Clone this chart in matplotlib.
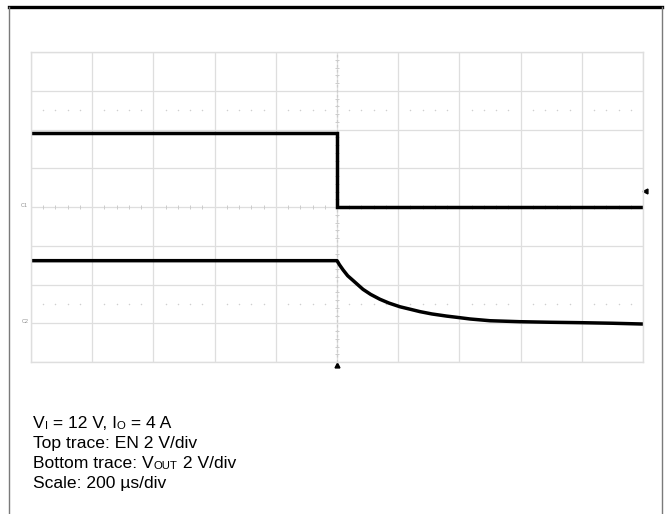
import numpy as np
import matplotlib.pyplot as plt
from matplotlib.lines import Line2D

plt.rcParams['font.family'] = ['Liberation Sans', 'DejaVu Sans']

# scope settings
t_div = 200.0      # us/div
v_div = 2.0        # V/div
c1_offset = 0.0    # div, EN ground
c2_offset = -3.0   # div, VOUT ground

# top trace: EN (time in us, volts)
en_t = [-1000, 0, 0, 1000]
en_v = [3.8, 3.8, 0.0, 0.0]

# bottom trace: VOUT (time in us, volts)
vout_t = [-1000, 0, 8, 20, 35, 53, 70, 85, 110, 140, 170, 206, 240, 271, 310,
          358, 400, 435, 500, 598, 700, 794, 900, 1000]
vout_v = [3.23, 3.23, 3.02, 2.75, 2.45, 2.20, 1.96, 1.75, 1.49, 1.24, 1.04, 0.85,
          0.72, 0.60, 0.48, 0.37, 0.29, 0.22, 0.13, 0.08, 0.05, 0.03, 0.0, -0.04]

trig_level = 0.82  # V on C1

note_lines = [
    [("V", 1), ("I", 0.65), (" = 12 V, I", 1), ("O", 0.65), (" = 4 A", 1)],
    [("Top trace: EN 2 V/div", 1)],
    [("Bottom trace: V", 1), ("OUT", 0.65), (" 2 V/div", 1)],
    [("Scale: 200 \u00b5s/div", 1)],
]

fig = plt.figure(figsize=(6.67, 5.14), dpi=100)
ax = fig.add_axes([31 / 667, 1 - 362 / 514, 612 / 667, 310 / 514])

grid_c = '#dedede'
ax.set_xlim(-5 * t_div, 5 * t_div)
ax.set_ylim(-4, 4)
ax.set_xticks(np.arange(-5, 6) * t_div)
ax.set_yticks(np.arange(-4, 5))
ax.tick_params(length=0, labelbottom=False, labelleft=False)
ax.grid(True, color=grid_c, lw=0.9)
for s in ax.spines.values():
    s.set_color(grid_c)
    s.set_linewidth(1.0)

# minor ticks on the centre lines and dotted half-division rows
mx = np.arange(-25, 26) / 5 * t_div
mx = mx[np.abs(mx / t_div - np.round(mx / t_div)) > 1e-6]
my = np.arange(-20, 21) / 5
my = my[np.abs(my - np.round(my)) > 1e-6]
ax.plot(mx, np.zeros_like(mx), ls='none', marker='|', ms=2.5, color='#cccccc', mew=0.7)
ax.plot(np.zeros_like(my), my, ls='none', marker='_', ms=2.5, color='#cccccc', mew=0.7)
for yy in (2.5, -2.5):
    ax.plot(mx, np.full_like(mx, yy), ls='none', marker='o', ms=1.1, color='#cfcfcf', mew=0)
ax.axvline(0, color='#cccccc', lw=0.9, ls=(0, (2, 2)))

# traces
ax.plot(en_t, np.array(en_v) / v_div + c1_offset, color='black', lw=2.5, solid_joinstyle='miter')
ax.plot(vout_t, np.array(vout_v) / v_div + c2_offset, color='black', lw=2.5)

# channel markers
for name, off in (("C1", c1_offset), ("C2", c2_offset)):
    ax.annotate(name, xy=(-5 * t_div, off), xytext=(-2, 1), textcoords='offset points',
                ha='right', va='center', fontsize=4, color='#909090', annotation_clip=False)
ax.plot([5 * t_div + 8], [trig_level / v_div + c1_offset], marker='<', ms=3.5,
        color='black', clip_on=False)
ax.plot([0], [-4.07], marker='^', ms=3.5, color='black', clip_on=False)

# outer frame
fig.add_artist(Line2D([9 / 667, 662 / 667], [1 - 7 / 514] * 2, color='black', lw=2.4))
fig.add_artist(Line2D([9 / 667] * 2, [0, 1 - 7 / 514], color='#7a7a7a', lw=1.0))
fig.add_artist(Line2D([662 / 667] * 2, [0, 1 - 7 / 514], color='#7a7a7a', lw=1.0))

# notes
base = 12.6
for i, parts in enumerate(note_lines):
    y = 1 - (428 + 20 * i) / 514
    prev = None
    for txt, scale in parts:
        if prev is None:
            prev = fig.text(33 / 667, y, txt, fontsize=base * scale, va='baseline', ha='left')
        else:
            prev = ax.annotate(txt, xy=(1, 0), xycoords=prev, va='bottom', ha='left',
                               fontsize=base * scale, annotation_clip=False)

fig.savefig('out.png', dpi=100)
